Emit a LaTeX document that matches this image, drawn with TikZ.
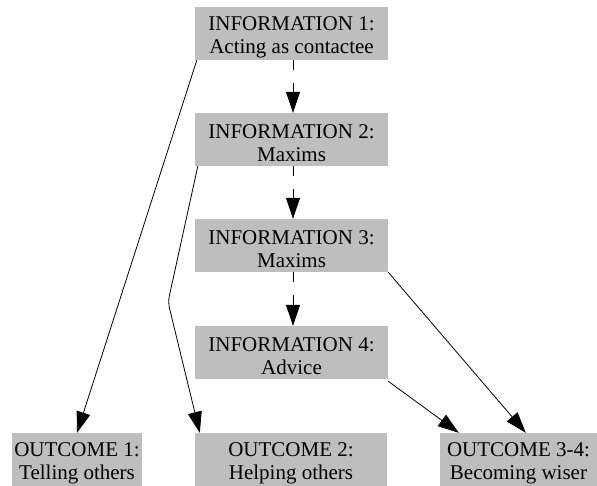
\documentclass[tikz,border=0pt]{standalone}
\usepackage{fontspec}
\setmainfont{Liberation Serif}
\usetikzlibrary{arrows.meta}
\definecolor{boxgray}{RGB}{190,190,190}
% strut that sets the baseline of each line inside the boxes
\newcommand\linestrut{\rule[-0.5pt]{0pt}{22pt}}
\tikzset{
  box/.style={fill=boxgray, inner sep=0pt, minimum height=53pt, align=center,
    font=\fontsize{21}{23}\selectfont},
  infobox/.style={box, minimum width=193pt},
  link/.style={line width=0.8pt, -{Triangle[length=21pt,width=14pt]}},
  chain/.style={link, dash pattern=on 10pt off 13pt},
}
\begin{document}
\begin{tikzpicture}[x=1pt, y=-1pt]
\useasboundingbox (0,0) rectangle (597,485);
\fill[white] (0,0) rectangle (597,485);

% information stages
\node[infobox] (i1) at (291.5,33.5) {\linestrut INFORMATION 1:\\\linestrut Acting as contactee};
\node[infobox] (i2) at (291.5,139.5) {\linestrut INFORMATION 2:\\\linestrut Maxims};
\node[infobox] (i3) at (291.5,245.5) {\linestrut INFORMATION 3:\\\linestrut Maxims};
\node[infobox] (i4) at (291.5,352.5) {\linestrut INFORMATION 4:\\\linestrut Advice};

% outcomes
\node[box, minimum width=130pt] (o1) at (77,459.5) {\linestrut OUTCOME 1:\\\linestrut Telling others};
\node[box, minimum width=192pt] (o2) at (291,459.5) {\linestrut OUTCOME 2:\\\linestrut Helping others};
\node[box, minimum width=157pt] (o34) at (518.5,459.5) {\linestrut OUTCOME 3-4:\\\linestrut Becoming wiser};

% sequence between information stages
\draw[chain] ([xshift=1.5pt]i1.south) -- ([xshift=1.5pt]i2.north);
\draw[chain] ([xshift=1.5pt]i2.south) -- ([xshift=1.5pt]i3.north);
\draw[chain] ([xshift=1.5pt]i3.south) -- ([xshift=1.5pt]i4.north);

% links to outcomes
\coordinate (bend) at (168,302);
\draw[link] ([xshift=2pt]i1.south west) -- (o1.north);
\draw[link, rounded corners=6pt] ([xshift=3pt]i2.south west) -- (bend) -- ([xshift=5pt]o2.north west);
\draw[link] (i3.south east) -- ([xshift=86pt]o34.north west);
\draw[link] ([yshift=-2pt]i4.south east) -- ([xshift=19pt]o34.north west);
\end{tikzpicture}
\end{document}
